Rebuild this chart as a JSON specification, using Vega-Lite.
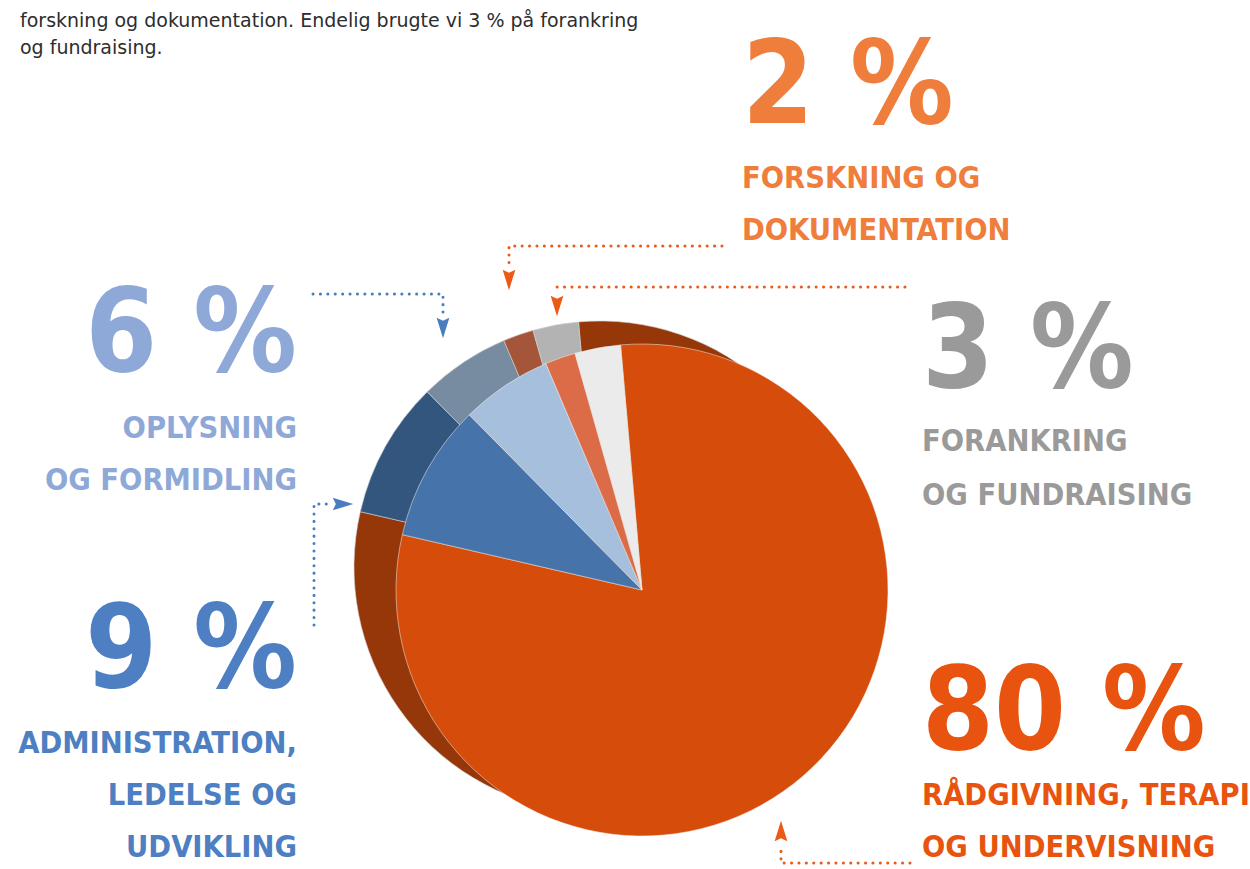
{
  "$schema": "https://vega.github.io/schema/vega-lite/v6.json",
  "width": 1250,
  "height": 869,
  "padding": 0,
  "autosize": "none",
  "background": "white",
  "config": {"view": {"stroke": null}},
  "datasets": {
    "pie": [
      {"cat": "raadgivning", "idx": 1, "pct": 80},
      {"cat": "admin", "idx": 2, "pct": 9},
      {"cat": "oplysning", "idx": 3, "pct": 6},
      {"cat": "forskning", "idx": 4, "pct": 2},
      {"cat": "forankring", "idx": 5, "pct": 3}
    ],
    "labels": [
      {"cat": "forskning", "side": "R", "kind": "num", "text": "2 %", "x": 742, "y": 123},
      {"cat": "forskning", "side": "R", "kind": "cap", "text": "FORSKNING OG", "x": 742, "y": 188},
      {"cat": "forskning", "side": "R", "kind": "cap", "text": "DOKUMENTATION", "x": 742, "y": 240},
      {"cat": "oplysning", "side": "L", "kind": "num", "text": "6 %", "x": 297, "y": 371},
      {"cat": "oplysning", "side": "L", "kind": "cap", "text": "OPLYSNING", "x": 297, "y": 438},
      {"cat": "oplysning", "side": "L", "kind": "cap", "text": "OG FORMIDLING", "x": 297, "y": 490},
      {"cat": "admin", "side": "L", "kind": "num", "text": "9 %", "x": 297, "y": 687},
      {"cat": "admin", "side": "L", "kind": "cap", "text": "ADMINISTRATION,", "x": 297, "y": 753},
      {"cat": "admin", "side": "L", "kind": "cap", "text": "LEDELSE OG", "x": 297, "y": 805},
      {"cat": "admin", "side": "L", "kind": "cap", "text": "UDVIKLING", "x": 297, "y": 857},
      {"cat": "forankring", "side": "R", "kind": "num", "text": "3 %", "x": 922, "y": 387},
      {"cat": "forankring", "side": "R", "kind": "cap", "text": "FORANKRING", "x": 922, "y": 451},
      {"cat": "forankring", "side": "R", "kind": "cap", "text": "OG FUNDRAISING", "x": 922, "y": 505},
      {"cat": "raadgivning", "side": "R", "kind": "num", "text": "80 %", "x": 922, "y": 749},
      {"cat": "raadgivning", "side": "R", "kind": "cap", "text": "RÅDGIVNING, TERAPI", "x": 922, "y": 805},
      {"cat": "raadgivning", "side": "R", "kind": "cap", "text": "OG UNDERVISNING", "x": 922, "y": 857}
    ],
    "intro": [
      {"text": "forskning og dokumentation. Endelig brugte vi 3 % på forankring", "x": 20, "y": 27},
      {"text": "og fundraising.", "x": 20, "y": 54}
    ],
    "connectors": [
      {"line": "a", "cat": "orange", "o": 1, "x": 722, "y": 246},
      {"line": "a", "cat": "orange", "o": 2, "x": 509, "y": 246},
      {"line": "a", "cat": "orange", "o": 3, "x": 509, "y": 266},
      {"line": "b", "cat": "orange", "o": 1, "x": 905, "y": 287},
      {"line": "b", "cat": "orange", "o": 2, "x": 557, "y": 287},
      {"line": "c", "cat": "blue", "o": 1, "x": 313, "y": 294},
      {"line": "c", "cat": "blue", "o": 2, "x": 443, "y": 294},
      {"line": "c", "cat": "blue", "o": 3, "x": 443, "y": 313},
      {"line": "d", "cat": "blue", "o": 1, "x": 314, "y": 625},
      {"line": "d", "cat": "blue", "o": 2, "x": 314, "y": 504},
      {"line": "d", "cat": "blue", "o": 3, "x": 327, "y": 504},
      {"line": "e", "cat": "orange", "o": 1, "x": 910, "y": 863},
      {"line": "e", "cat": "orange", "o": 2, "x": 781, "y": 863},
      {"line": "e", "cat": "orange", "o": 3, "x": 781, "y": 845}
    ],
    "arrows": [
      {"cat": "orange", "dir": "down", "x": 509, "y": 280},
      {"cat": "orange", "dir": "down", "x": 557, "y": 306},
      {"cat": "blue", "dir": "down", "x": 443, "y": 328},
      {"cat": "blue", "dir": "right", "x": 343, "y": 504},
      {"cat": "orange", "dir": "up", "x": 781, "y": 831}
    ]
  },
  "layer": [
    {
      "data": {"name": "pie"},
      "mark": {"type": "arc", "outerRadius": 246, "stroke": "#d0d0d0", "strokeWidth": 0.6},
      "encoding": {
        "x": {"datum": 600, "type": "quantitative", "scale": {"domain": [0, 1250], "nice": false, "zero": false}, "axis": null},
        "y": {"datum": 567, "type": "quantitative", "scale": {"domain": [0, 869], "nice": false, "zero": false, "reverse": true}, "axis": null},
        "theta": {"field": "pct", "type": "quantitative", "stack": true, "scale": {"range": [-0.0873, 6.1959]}},
        "order": {"field": "idx", "type": "quantitative"},
        "color": {"field": "cat", "type": "nominal", "legend": null,
          "scale": {"domain": ["raadgivning", "admin", "oplysning", "forskning", "forankring"],
                    "range": ["#953709", "#33567F", "#778BA1", "#A5553A", "#B3B3B3"]}}
      }
    },
    {
      "data": {"name": "pie"},
      "mark": {"type": "arc", "outerRadius": 246, "stroke": "#f2f2f2", "strokeWidth": 0.5},
      "encoding": {
        "x": {"datum": 642, "type": "quantitative", "scale": {"domain": [0, 1250], "nice": false, "zero": false}, "axis": null},
        "y": {"datum": 590, "type": "quantitative", "scale": {"domain": [0, 869], "nice": false, "zero": false, "reverse": true}, "axis": null},
        "theta": {"field": "pct", "type": "quantitative", "stack": true, "scale": {"range": [-0.0873, 6.1959]}},
        "order": {"field": "idx", "type": "quantitative"},
        "color": {"field": "cat", "type": "nominal", "legend": null,
          "scale": {"domain": ["raadgivning", "admin", "oplysning", "forskning", "forankring"],
                    "range": ["#D64D0B", "#4674AA", "#A6BFDC", "#DC6C47", "#EBEBEB"]}}
      }
    },
    {
      "data": {"name": "connectors"},
      "mark": {"type": "line", "strokeWidth": 3, "strokeDash": [0.1, 7.3], "strokeCap": "round"},
      "encoding": {
        "x": {"field": "x", "type": "quantitative", "scale": {"domain": [0, 1250], "nice": false, "zero": false}, "axis": null},
        "y": {"field": "y", "type": "quantitative", "scale": {"domain": [0, 869], "nice": false, "zero": false, "reverse": true}, "axis": null},
        "detail": {"field": "line"},
        "order": {"field": "o", "type": "quantitative"},
        "color": {"field": "cat", "type": "nominal", "legend": null,
          "scale": {"domain": ["orange", "blue"], "range": ["#EB5A17", "#4A7DC0"]}}
      }
    },
    {
      "data": {"name": "arrows"},
      "mark": {"type": "point", "filled": true, "opacity": 1, "size": 420},
      "encoding": {
        "x": {"field": "x", "type": "quantitative", "scale": {"domain": [0, 1250], "nice": false, "zero": false}, "axis": null},
        "y": {"field": "y", "type": "quantitative", "scale": {"domain": [0, 869], "nice": false, "zero": false, "reverse": true}, "axis": null},
        "shape": {"field": "dir", "type": "nominal", "legend": null,
          "scale": {"domain": ["down", "up", "right"],
                    "range": ["M -0.62 -1 L 0 -0.7 L 0.62 -1 L 0 1 Z", "M -0.62 1 L 0 0.7 L 0.62 1 L 0 -1 Z", "M -1 -0.62 L -0.7 0 L -1 0.62 L 1 0 Z"]}},
        "color": {"field": "cat", "type": "nominal", "legend": null,
          "scale": {"domain": ["orange", "blue"], "range": ["#EB5A17", "#4A7DC0"]}}
      }
    },
    {
      "data": {"name": "intro"},
      "mark": {"type": "text", "align": "left", "baseline": "alphabetic", "font": "DejaVu Sans", "fontSize": 19, "color": "#2d2d2d"},
      "encoding": {
        "x": {"field": "x", "type": "quantitative", "scale": {"domain": [0, 1250], "nice": false, "zero": false}, "axis": null},
        "y": {"field": "y", "type": "quantitative", "scale": {"domain": [0, 869], "nice": false, "zero": false, "reverse": true}, "axis": null},
        "text": {"field": "text"}
      }
    },
    {
      "data": {"name": "labels"},
      "transform": [{"filter": "datum.kind == 'num' && datum.side == 'R'"}],
      "mark": {"type": "text", "align": "left", "baseline": "alphabetic", "font": "DejaVu Sans Condensed", "fontWeight": "bold", "fontSize": 115},
      "encoding": {
        "x": {"field": "x", "type": "quantitative", "scale": {"domain": [0, 1250], "nice": false, "zero": false}, "axis": null},
        "y": {"field": "y", "type": "quantitative", "scale": {"domain": [0, 869], "nice": false, "zero": false, "reverse": true}, "axis": null},
        "text": {"field": "text"},
        "color": {"field": "cat", "type": "nominal", "legend": null,
          "scale": {"domain": ["raadgivning", "admin", "oplysning", "forskning", "forankring"],
                    "range": ["#E8540F", "#4D7FC2", "#8EA8D8", "#EF7D3B", "#9A9A9A"]}}
      }
    },
    {
      "data": {"name": "labels"},
      "transform": [{"filter": "datum.kind == 'num' && datum.side == 'L'"}],
      "mark": {"type": "text", "align": "right", "baseline": "alphabetic", "font": "DejaVu Sans Condensed", "fontWeight": "bold", "fontSize": 115},
      "encoding": {
        "x": {"field": "x", "type": "quantitative", "scale": {"domain": [0, 1250], "nice": false, "zero": false}, "axis": null},
        "y": {"field": "y", "type": "quantitative", "scale": {"domain": [0, 869], "nice": false, "zero": false, "reverse": true}, "axis": null},
        "text": {"field": "text"},
        "color": {"field": "cat", "type": "nominal", "legend": null,
          "scale": {"domain": ["raadgivning", "admin", "oplysning", "forskning", "forankring"],
                    "range": ["#E8540F", "#4D7FC2", "#8EA8D8", "#EF7D3B", "#9A9A9A"]}}
      }
    },
    {
      "data": {"name": "labels"},
      "transform": [{"filter": "datum.kind == 'cap' && datum.side == 'R'"}],
      "mark": {"type": "text", "align": "left", "baseline": "alphabetic", "font": "DejaVu Sans Condensed", "fontWeight": "bold", "fontSize": 30.5},
      "encoding": {
        "x": {"field": "x", "type": "quantitative", "scale": {"domain": [0, 1250], "nice": false, "zero": false}, "axis": null},
        "y": {"field": "y", "type": "quantitative", "scale": {"domain": [0, 869], "nice": false, "zero": false, "reverse": true}, "axis": null},
        "text": {"field": "text"},
        "color": {"field": "cat", "type": "nominal", "legend": null,
          "scale": {"domain": ["raadgivning", "admin", "oplysning", "forskning", "forankring"],
                    "range": ["#E8540F", "#4D7FC2", "#8EA8D8", "#EF7D3B", "#9A9A9A"]}}
      }
    },
    {
      "data": {"name": "labels"},
      "transform": [{"filter": "datum.kind == 'cap' && datum.side == 'L'"}],
      "mark": {"type": "text", "align": "right", "baseline": "alphabetic", "font": "DejaVu Sans Condensed", "fontWeight": "bold", "fontSize": 30.5},
      "encoding": {
        "x": {"field": "x", "type": "quantitative", "scale": {"domain": [0, 1250], "nice": false, "zero": false}, "axis": null},
        "y": {"field": "y", "type": "quantitative", "scale": {"domain": [0, 869], "nice": false, "zero": false, "reverse": true}, "axis": null},
        "text": {"field": "text"},
        "color": {"field": "cat", "type": "nominal", "legend": null,
          "scale": {"domain": ["raadgivning", "admin", "oplysning", "forskning", "forankring"],
                    "range": ["#E8540F", "#4D7FC2", "#8EA8D8", "#EF7D3B", "#9A9A9A"]}}
      }
    }
  ],
  "resolve": {"scale": {"color": "independent", "shape": "independent"}}
}
